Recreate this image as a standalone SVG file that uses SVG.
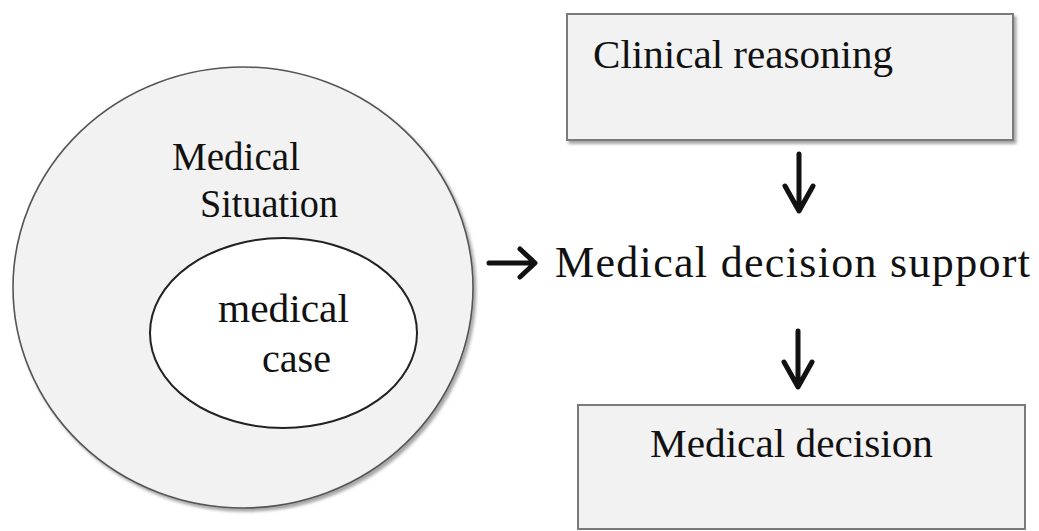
<svg xmlns="http://www.w3.org/2000/svg" width="1039" height="531" viewBox="0 0 1039 531">
  <defs>
    <filter id="shadow" x="-5%" y="-5%" width="112%" height="115%">
      <feDropShadow dx="2.5" dy="3" stdDeviation="1.5" flood-color="#000" flood-opacity="0.35"/>
    </filter>
  </defs>
  <style>
    text { font-family: "Liberation Serif", "Times New Roman", serif; font-size: 40px; fill: #111; }
    text.wide { font-size: 44px; }
    .box { fill: #f2f2f2; stroke: #7a7a7a; stroke-width: 2; }
    .outer { fill: #f2f2f2; stroke: #555; stroke-width: 1.6; }
    .inner { fill: #fff; stroke: #222; stroke-width: 2; }
    .arrow { fill: none; stroke: #111; stroke-width: 5; stroke-linecap: round; stroke-linejoin: round; }
  </style>
  <rect width="1039" height="531" fill="#fff"/>

  <g id="medical-situation">
    <ellipse class="outer" cx="243" cy="287.5" rx="230" ry="220.5" filter="url(#shadow)"/>
    <text x="172" y="170" textLength="128" lengthAdjust="spacingAndGlyphs">Medical</text>
    <text x="200" y="217" textLength="138" lengthAdjust="spacingAndGlyphs">Situation</text>
  </g>

  <g id="medical-case">
    <ellipse class="inner" cx="283.5" cy="333" rx="133.5" ry="95"/>
    <text x="218" y="322" textLength="131" lengthAdjust="spacingAndGlyphs">medical</text>
    <text x="262" y="372" textLength="69" lengthAdjust="spacingAndGlyphs">case</text>
  </g>

  <g id="clinical-reasoning">
    <rect class="box" x="567" y="14" width="446" height="126" filter="url(#shadow)"/>
    <text x="593" y="68" textLength="300" lengthAdjust="spacingAndGlyphs">Clinical reasoning</text>
  </g>

  <g id="medical-decision-support">
    <text class="wide" x="555" y="277" textLength="475" lengthAdjust="spacing">Medical decision support</text>
  </g>

  <g id="medical-decision">
    <rect class="box" x="578" y="405" width="447" height="124"/>
    <text x="650" y="457" textLength="283" lengthAdjust="spacingAndGlyphs">Medical decision</text>
  </g>

  <g id="connectors">
    <!-- situation to decision support -->
    <path class="arrow" d="M489 263 H534 M520 249 L535 263 L520 277"/>
    <!-- clinical reasoning to decision support -->
    <path class="arrow" d="M799 154 V210 M785 186 L799 211 L813 186"/>
    <!-- decision support to decision -->
    <path class="arrow" d="M798 331 V386 M784 362 L798 387 L812 362"/>
  </g>
</svg>
